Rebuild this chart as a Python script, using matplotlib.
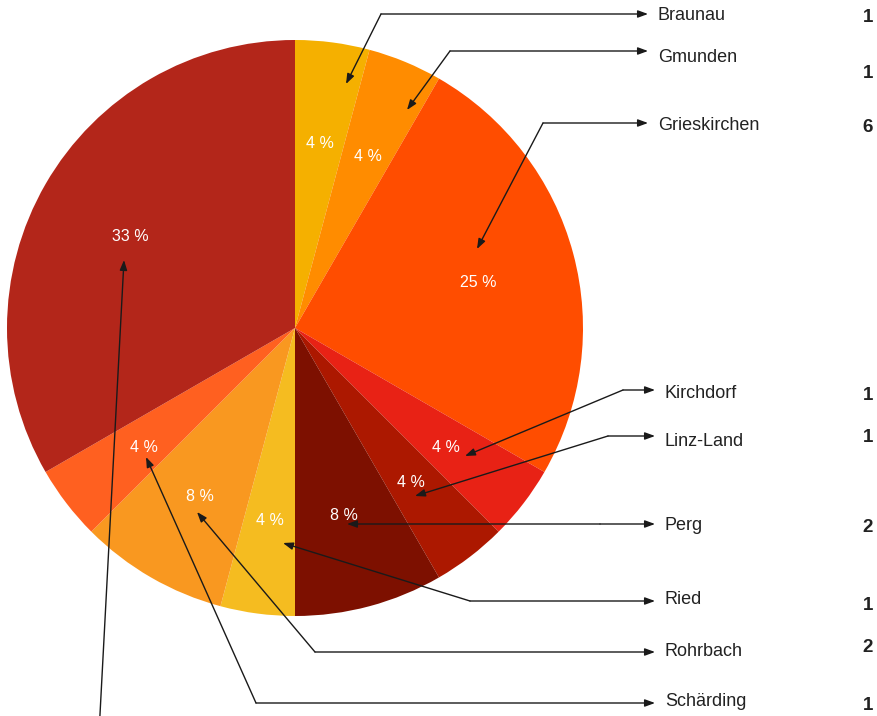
import matplotlib
matplotlib.use("Agg")
import matplotlib.pyplot as plt

# data
districts = ["Braunau", "Gmunden", "Grieskirchen", "Kirchdorf", "Linz-Land",
             "Perg", "Ried", "Rohrbach", "Schärding", "Vöcklabruck"]
counts = [1, 1, 6, 1, 1, 2, 1, 2, 1, 8]
colors = ["#F5B000", "#FF8C00", "#FF4D00", "#E82215", "#AC1800",
          "#7D1000", "#F5BC20", "#F99820", "#FF6020", "#B3261A"]

# layout (pixel coordinates of the 878x716 canvas)
center = (295, 328)
radius = 288
head_pts = [(346, 84), (407, 110), (477, 249), (465, 456), (415, 496),
            (347, 524), (283, 543), (197, 512), (146, 457), (124, 260)]
elbow_pts = [(381, 14), (450, 51), (543, 123), (623, 390), (608, 436),
             (600, 524), (470, 601), (315, 652), (256, 703), (96, 790)]
label_x = [648, 648, 648, 655, 655, 655, 655, 655, 655, 655]
label_y = [14, 51, 123, 390, 436, 524, 601, 652, 703, 790]
text_y = [15, 57, 125, 394, 441, 526, 600, 651, 702, 792]
value_y = [18, 74, 128, 396, 437, 528, 605, 647, 705, 792]

fig = plt.figure(figsize=(8.78, 7.16), dpi=100)
ax = fig.add_axes([0, 0, 1, 1])

wedges, texts, autotexts = ax.pie(
    counts, colors=colors, center=center, radius=radius,
    startangle=-90, counterclock=True, pctdistance=0.66,
    autopct=lambda p: "%d %%" % round(p),
    wedgeprops=dict(linewidth=0),
    textprops=dict(color="white", fontsize=11.5, family="Liberation Sans"),
    frame=True)
# percent labels sit a little below the slice's mid point
for t in autotexts:
    x, y = t.get_position()
    t.set_position((x, y + 4))
ax.set_xlim(0, 878)
ax.set_ylim(716, 0)
ax.axis("off")

arrow = dict(arrowstyle="-|>,head_length=0.6,head_width=0.22", color="#1a1a1a",
             lw=1, shrinkA=0, shrinkB=0)
for i, name in enumerate(districts):
    # elbow -> slice
    ax.annotate("", xy=head_pts[i], xytext=elbow_pts[i], arrowprops=arrow)
    if label_y[i] > 716:
        # this label lies below the visible canvas
        continue
    # elbow -> label
    ax.annotate("", xy=(label_x[i], label_y[i]), xytext=elbow_pts[i],
                arrowprops=arrow)
    ax.text(label_x[i] + 10, text_y[i], name, fontsize=13,
            family="Liberation Sans", color="#222222", va="center", ha="left")
    ax.text(873, value_y[i], str(counts[i]), fontsize=13.5, fontweight="bold",
            family="Liberation Sans", color="#222222", va="center", ha="right")

fig.savefig("out.png", dpi=100)
